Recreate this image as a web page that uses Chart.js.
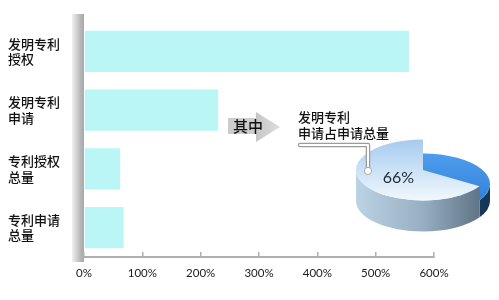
<!DOCTYPE html>
<html>
<head>
<meta charset="utf-8">
<script src="https://cdn.jsdelivr.net/npm/chart.js@4"></script>
<style>
  html, body { margin: 0; padding: 0; background: #fff; overflow: hidden; }
  #wrap { position: relative; width: 499px; height: 300px; }
  #pieChart { position: absolute; left: 348px; top: 95px; width: 150px; height: 150px; }
  #barChart { position: absolute; left: 0; top: 0; width: 499px; height: 300px; }
</style>
</head>
<body>
<div id="wrap">
  <canvas id="pieChart" width="150" height="150"></canvas>
  <canvas id="barChart" width="499" height="300"></canvas>
</div>
<script>
// growth rates (%)
const categories = [['发明专利', '授权'], ['发明专利', '申请'], ['专利授权', '总量'], ['专利申请', '总量']];
const growth = [557, 230, 62, 68];
const xTickLabels = ['0%', '100%', '200%', '300%', '400%', '500%', '600%'];

// share of invention applications in all applications
const shareLabels = ['发明专利申请', '其他专利申请'];
const shareValues = [66, 34];
const shareTitle = ['发明专利', '申请占申请总量'];
const arrowText = '其中';

const CJK = '"Noto Sans CJK SC", "Noto Sans", sans-serif';
const LATIN = 'Lato, "Noto Sans", sans-serif';

// pie look
const TILT = 0.455;           // vertical squash of the disc
const WALL = 31;              // thickness of the disc in px
const SLICE_DROP = [0, 14];   // second slice sits lower
const SLICE_TOP = [['#a6cbef', '#f1f8fd'], ['#4e9ded', '#2a7ad3']];
const SLICE_WALL = [['#bcd3e4', '#97afc2', '#55697a'], ['#24558a', '#1d4673', '#163656']];

// grey shaded strip left of the bars + arrow + callout
const annotations = {
  id: 'annotations',
  beforeDraw(chart) {
    const { ctx, chartArea } = chart;
    const x0 = chartArea.left - 12, x1 = chartArea.left;
    const g = ctx.createLinearGradient(x0, 0, x1, 0);
    g.addColorStop(0, '#f0f0f0');
    g.addColorStop(0.75, '#b4b4b4');
    g.addColorStop(1, '#a8a8a8');
    ctx.save();
    ctx.fillStyle = g;
    ctx.fillRect(x0, chartArea.top - 8, x1 - x0, chartArea.bottom - chartArea.top + 13);
    ctx.restore();
  },
  afterDraw(chart) {
    const ctx = chart.ctx;
    ctx.save();
    // arrow
    ctx.fillStyle = '#cdcdcd';
    ctx.fillRect(228, 118, 28, 16);
    const tg = ctx.createLinearGradient(256, 0, 280, 0);
    tg.addColorStop(0, '#c6c6c6');
    tg.addColorStop(1, '#dedede');
    ctx.fillStyle = tg;
    ctx.beginPath();
    ctx.moveTo(256, 112);
    ctx.lineTo(280, 127);
    ctx.lineTo(256, 142);
    ctx.closePath();
    ctx.fill();
    ctx.fillStyle = '#111';
    ctx.font = '500 15px ' + CJK;
    ctx.textAlign = 'center';
    ctx.textBaseline = 'middle';
    ctx.fillText(arrowText, 248, 126);

    // callout title
    ctx.font = '500 13px ' + CJK;
    ctx.textAlign = 'left';
    ctx.fillText(shareTitle[0], 298, 117);
    ctx.fillText(shareTitle[1], 298, 133);

    // callout leader
    ctx.lineJoin = 'round';
    ctx.lineCap = 'round';
    ctx.beginPath();
    ctx.moveTo(300, 145);
    ctx.lineTo(368, 145);
    ctx.lineTo(368, 168);
    ctx.strokeStyle = '#9c9c9c';
    ctx.lineWidth = 4.5;
    ctx.stroke();
    ctx.strokeStyle = '#ffffff';
    ctx.lineWidth = 2;
    ctx.stroke();
    ctx.beginPath();
    ctx.arc(368, 171, 3.6, 0, Math.PI * 2);
    ctx.fillStyle = '#ffffff';
    ctx.fill();
    ctx.strokeStyle = '#a8a8a8';
    ctx.lineWidth = 1;
    ctx.stroke();
    ctx.restore();
  }
};

new Chart(document.getElementById('barChart'), {
  type: 'bar',
  data: {
    labels: categories,
    datasets: [{
      data: growth,
      backgroundColor: '#bbf6f6',
      borderWidth: 0,
      barPercentage: 0.7,
      categoryPercentage: 1
    }]
  },
  options: {
    indexAxis: 'y',
    responsive: false,
    animation: false,
    layout: { padding: { left: 8, right: 65, top: 22, bottom: 0 } },
    plugins: { legend: { display: false }, tooltip: { enabled: false } },
    scales: {
      y: {
        grid: { display: false },
        border: { display: false },
        ticks: {
          crossAlign: 'far',
          color: '#111',
          font: { family: CJK, size: 13, weight: '500', lineHeight: 1.2 }
        },
        afterFit(s) { s.width = 76; }
      },
      x: {
        min: 0,
        max: 600,
        ticks: {
          stepSize: 100,
          callback: (v, i) => xTickLabels[i],
          color: '#1a1a1a',
          font: { family: LATIN, size: 11.5 },
          padding: 14,
          maxRotation: 0
        },
        grid: { drawOnChartArea: false, tickLength: -5, color: '#b0b0b0', lineWidth: 1.5 },
        border: { color: '#b0b0b0', width: 2 },
        afterFit(s) { s.height = 43; }
      }
    }
  },
  plugins: [annotations]
});

// extruded, tilted pie
function drawWall(ctx, arc, top, bottom, colors) {
  const { x: cx, y: cy, outerRadius: r } = arc;
  const ry = r * TILT;
  const g = ctx.createLinearGradient(cx - r, 0, cx + r, 0);
  colors.forEach((c, k) => g.addColorStop(k / (colors.length - 1), c));
  ctx.fillStyle = g;
  [0, Math.PI * 2].forEach(k => {
    const lo = Math.max(arc.startAngle, k);
    const hi = Math.min(arc.endAngle, k + Math.PI);
    if (hi <= lo) return;
    ctx.beginPath();
    ctx.ellipse(cx, cy + top, r, ry, 0, lo, hi);
    ctx.ellipse(cx, cy + bottom, r, ry, 0, hi, lo, true);
    ctx.closePath();
    ctx.fill();
  });
}

const pie3d = {
  id: 'pie3d',
  beforeDatasetsDraw(chart) {
    const ctx = chart.ctx;
    const arcs = chart.getDatasetMeta(0).data;
    // back slice first, raised slice last
    [1, 0].forEach(i => {
      const arc = arcs[i];
      const lift = SLICE_DROP[i];
      drawWall(ctx, arc, lift, WALL, SLICE_WALL[i]);
      ctx.save();
      ctx.translate(arc.x, arc.y + lift);
      ctx.scale(1, TILT);
      ctx.translate(-arc.x, -arc.y);
      arc.draw(ctx);
      ctx.restore();
    });
    return false;
  },
  afterDraw(chart) {
    const ctx = chart.ctx;
    const arc = chart.getDatasetMeta(0).data[0];
    const mid = (arc.startAngle + arc.endAngle) / 2;
    const d = arc.outerRadius * 0.42;
    ctx.save();
    ctx.fillStyle = '#1c2836';
    ctx.font = '16px ' + LATIN;
    ctx.textAlign = 'center';
    ctx.textBaseline = 'middle';
    ctx.fillText(shareValues[0] + '%', arc.x + d * Math.cos(mid), arc.y + d * TILT * Math.sin(mid) + 2);
    ctx.restore();
  }
};

new Chart(document.getElementById('pieChart'), {
  type: 'pie',
  data: {
    labels: shareLabels,
    datasets: [{
      data: shareValues,
      borderWidth: 0,
      backgroundColor: c => {
        const { ctx, chartArea } = c.chart;
        const stops = SLICE_TOP[c.dataIndex];
        if (!chartArea) return stops[0];
        const g = ctx.createLinearGradient(0, chartArea.top, 0, chartArea.bottom);
        g.addColorStop(0, stops[0]);
        g.addColorStop(1, stops[1]);
        return g;
      }
    }]
  },
  options: {
    responsive: false,
    animation: false,
    rotation: 122.4,
    layout: { padding: 8 },
    plugins: { legend: { display: false }, tooltip: { enabled: false } }
  },
  plugins: [pie3d]
});
</script>
</body>
</html>
